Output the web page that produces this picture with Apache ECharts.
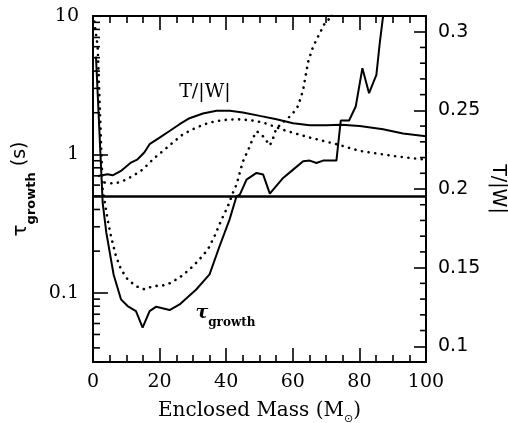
<!DOCTYPE html>
<html><head><meta charset="utf-8">
<script src="https://cdn.jsdelivr.net/npm/echarts@6/dist/echarts.min.js"></script>
<style>html,body{margin:0;padding:0;background:#fff}#c{width:508px;height:423px}</style>
</head><body><div id="c"></div>
<script>
// ---- data ----
const tauSolidMass = [0.9, 2.9, 4.0, 6.2, 8.4, 10.4, 12.9, 14.9, 17.0, 19.0, 23.0, 26.0, 31.0, 35.0, 38.0, 41.0, 43.1, 44.1, 46.1, 49.1, 51.1, 53.1, 57.1, 60.1, 63.1, 65.1, 67.1, 69.1, 73.1, 74.4, 76.9, 78.9, 80.9, 82.9, 85.1, 86.1, 87.1, 87.6];
const tauSolid     = [5.09, 0.449, 0.272, 0.135, 0.0897, 0.0802, 0.0738, 0.0560, 0.0738, 0.0794, 0.0750, 0.0824, 0.1057, 0.1358, 0.217, 0.338, 0.498, 0.512, 0.658, 0.735, 0.715, 0.521, 0.676, 0.776, 0.891, 0.902, 0.867, 0.902, 0.902, 1.758, 1.758, 2.218, 4.20, 2.77, 3.76, 6.35, 9.89, 12];

const tauDottedMass = [0.4, 1.4, 2.9, 3.4, 4.4, 5.4, 6.9, 8.4, 10.4, 12.9, 15.5, 18.0, 21.0, 23.5, 26.5, 29.0, 31.5, 34.5, 36.5, 38.6, 40.5, 42.0, 43.1, 45.0, 47.1, 48.0, 49.2, 51.1, 53.1, 54.1, 54.9, 56.6, 58.6, 60.1, 61.6, 63.1, 64.6, 66.1, 68.1, 69.6, 71.1, 72.0];
const tauDotted     = [9.1, 6.01, 0.557, 0.471, 0.338, 0.256, 0.184, 0.148, 0.125, 0.1117, 0.1059, 0.1117, 0.113, 0.1183, 0.1318, 0.1476, 0.1694, 0.2056, 0.2564, 0.338, 0.4217, 0.527, 0.605, 0.885, 1.146, 1.31, 1.47, 1.35, 1.16, 1.31, 1.51, 1.68, 1.83, 1.99, 2.24, 2.92, 4.66, 6.01, 7.50, 8.85, 9.62, 11];

const twSolidMass = [1.5, 4.4, 5.9, 8.4, 11.4, 13.4, 15.4, 17.0, 20.0, 23.0, 26.0, 29.0, 33.0, 37.1, 41.1, 45.0, 50.1, 55.1, 60.1, 65.1, 70.1, 74.6, 80.1, 87.1, 93.1, 100];
const twSolid     = [0.2083, 0.2094, 0.2087, 0.2115, 0.2168, 0.2189, 0.2232, 0.2285, 0.2327, 0.2369, 0.2412, 0.2450, 0.2480, 0.2497, 0.2497, 0.2487, 0.2465, 0.2444, 0.2418, 0.2406, 0.2406, 0.2408, 0.2401, 0.2380, 0.2353, 0.2335];

const twDottedMass = [3.5, 6.5, 9.0, 12.0, 15.0, 18.0, 21.0, 24.0, 27.0, 31.0, 35.0, 39.0, 43.1, 47.1, 51.1, 58.1, 65.1, 73.1, 80.1, 90.1, 100];
const twDotted     = [0.2041, 0.2034, 0.2051, 0.2083, 0.2125, 0.2189, 0.2242, 0.2296, 0.2348, 0.2391, 0.2423, 0.2438, 0.2444, 0.2438, 0.2423, 0.2369, 0.2327, 0.2285, 0.2242, 0.2210, 0.2186];

const tauThreshold = 0.5;

const massTicks = [0, 20, 40, 60, 80, 100];
const tauTickLabels = [0.1, 1, 10];
const twTickLabels = [0.1, 0.15, 0.2, 0.25, 0.3];
const tauMinorTicks = [0.04, 0.05, 0.06, 0.07, 0.08, 0.09, 0.2, 0.3, 0.4, 0.5, 0.6, 0.7, 0.8, 0.9, 2, 3, 4, 5, 6, 7, 8, 9];
const twMinorTicks = [0.11, 0.12, 0.13, 0.14, 0.16, 0.17, 0.18, 0.19, 0.21, 0.22, 0.23, 0.24, 0.26, 0.27, 0.28, 0.29];

// annotation anchors (data coordinates)
const twLabelAt = [33.6, 0.2616];
const tauLabelAt = [30.6, 0.0687];

// ---- chart ----
const zip = (a, b) => a.map((x, i) => [x, b[i]]);
const black = '#000';
const serif = 'DejaVu Serif';
const sans = 'DejaVu Sans';

const tickStyle = { color: black, width: 1.6 };
const xAxisBase = {
  type: 'value', min: massTicks[0], max: massTicks[massTicks.length - 1], interval: 20,
  axisLine: { show: true, onZero: false, lineStyle: { color: black, width: 2 } },
  axisTick: { show: true, inside: true, length: 14, lineStyle: tickStyle },
  minorTick: { show: true, splitNumber: 4, length: 7, lineStyle: tickStyle },
  splitLine: { show: false }, minorSplitLine: { show: false }
};

const option = {
  animation: false,
  backgroundColor: '#fff',
  grid: { left: 93, right: 82, top: 16, bottom: 61, containLabel: false, outerBoundsMode: 'none' },
  xAxis: [
    Object.assign({}, xAxisBase, {
      position: 'bottom',
      axisLabel: { show: true, margin: 11, fontFamily: serif, fontSize: 19, color: black,
        formatter: v => massTicks.includes(v) ? String(v) : '' },
      name: '{n|Enclosed Mass (M}{sub|⊙}{n|)}',
      nameLocation: 'middle', nameGap: 39,
      nameTextStyle: { rich: {
        n: { fontFamily: serif, fontSize: 20, color: black, lineHeight: 24, verticalAlign: 'top' },
        sub: { fontFamily: sans, fontSize: 11, color: black, lineHeight: 11, verticalAlign: 'top', padding: [13, 0, 0, 0] }
      } }
    }),
    Object.assign({}, xAxisBase, { position: 'top', axisLabel: { show: false } })
  ],
  yAxis: [
    {
      type: 'log', min: Math.pow(10, -1.5), max: 10, position: 'left',
      axisLine: { show: true, onZero: false, lineStyle: { color: black, width: 2 } },
      axisTick: { show: true, inside: true, length: 15, lineStyle: tickStyle },
      minorTick: { show: false },
      splitLine: { show: false },
      axisLabel: { margin: 14, fontFamily: serif, fontSize: 19, color: black,
        formatter: v => {
          const hit = tauTickLabels.find(t => Math.abs(Math.log10(v) - Math.log10(t)) < 1e-6);
          return hit !== undefined ? String(hit) : '';
        } },
      name: '{t|τ}{sub|growth}{p| (s)}',
      nameLocation: 'middle', nameRotate: 90, nameGap: 55,
      nameTextStyle: { rich: {
        t: { fontFamily: sans, fontSize: 20, color: black, lineHeight: 24, verticalAlign: 'top' },
        p: { fontFamily: sans, fontSize: 19, color: black, lineHeight: 24, verticalAlign: 'top' },
        sub: { fontFamily: sans, fontSize: 13, fontWeight: 'bold', color: black, lineHeight: 13, verticalAlign: 'top', padding: [14, 0, 0, 0] }
      } }
    },
    {
      type: 'value', min: 0.09, max: 0.31, position: 'right',
      axisLine: { show: true, onZero: false, lineStyle: { color: black, width: 2 } },
      axisTick: { show: true, inside: true, length: 12, lineStyle: tickStyle },
      minorTick: { show: false },
      splitLine: { show: false },
      axisLabel: { margin: 12, fontFamily: sans, fontSize: 19, color: black,
        formatter: v => {
          const hit = twTickLabels.find(t => Math.abs(v - t) < 1e-6);
          return hit !== undefined ? String(hit) : '';
        } },
      name: 'T/|W|',
      nameLocation: 'middle', nameRotate: -90, nameGap: 62, nameMoveOverlap: false,
      nameTextStyle: { fontFamily: sans, fontSize: 19, color: black }
    }
  ],
  series: [
    {
      type: 'line', name: 'tau solid', xAxisIndex: 0, yAxisIndex: 0,
      data: zip(tauSolidMass, tauSolid), showSymbol: false, smooth: false,
      lineStyle: { color: black, width: 2 }, z: 5,
      markLine: { silent: true, symbol: 'none', label: { show: false },
        lineStyle: { color: black, width: 2.6, type: 'solid' },
        data: [{ yAxis: tauThreshold }] }
    },
    {
      type: 'line', name: 'tau dotted', xAxisIndex: 0, yAxisIndex: 0,
      data: zip(tauDottedMass, tauDotted), showSymbol: false,
      lineStyle: { color: black, width: 2.6, type: [0.1, 6.6], cap: 'round' }, z: 4
    },
    {
      type: 'line', name: 'tw solid', xAxisIndex: 0, yAxisIndex: 1,
      data: zip(twSolidMass, twSolid), showSymbol: false,
      lineStyle: { color: black, width: 2 }, z: 5
    },
    {
      type: 'line', name: 'tw dotted', xAxisIndex: 0, yAxisIndex: 1,
      data: zip(twDottedMass, twDotted), showSymbol: false,
      lineStyle: { color: black, width: 2.6, type: [0.1, 6.6], cap: 'round' }, z: 4
    },
    {
      type: 'scatter', name: 'tau minor ticks', xAxisIndex: 0, yAxisIndex: 0, clip: false, silent: true,
      data: tauMinorTicks.map(v => [massTicks[0], v]),
      symbol: 'rect', symbolSize: [7, 1.6], symbolOffset: [3.5, 0], itemStyle: { color: black, opacity: 1 }
    },
    {
      type: 'scatter', name: 'tw minor ticks', xAxisIndex: 0, yAxisIndex: 1, clip: false, silent: true,
      data: twMinorTicks.map(v => [massTicks[massTicks.length - 1], v]),
      symbol: 'rect', symbolSize: [6, 1.6], symbolOffset: [-3, 0], itemStyle: { color: black, opacity: 1 }
    },
    {
      type: 'scatter', name: 'tw label', xAxisIndex: 0, yAxisIndex: 1, silent: true,
      data: [twLabelAt], symbolSize: 1, itemStyle: { color: 'transparent', opacity: 1 },
      label: { show: true, position: 'inside', formatter: 'T/|W|',
        fontFamily: serif, fontSize: 19, color: black, opacity: 1 }
    },
    {
      type: 'scatter', name: 'tau label', xAxisIndex: 0, yAxisIndex: 0, silent: true,
      data: [tauLabelAt], symbolSize: 1, itemStyle: { color: 'transparent', opacity: 1 },
      label: { show: true, position: 'right', distance: 0, opacity: 1,
        formatter: '{t|τ}{sub|growth}',
        rich: {
          t: { fontFamily: serif, fontSize: 19, fontWeight: 'bold', fontStyle: 'italic', color: black, lineHeight: 24, verticalAlign: 'top' },
          sub: { fontFamily: serif, fontSize: 12, fontWeight: 'bold', color: black, lineHeight: 12, verticalAlign: 'top', padding: [14, 0, 0, 0] }
        } }
    }
  ]
};

const chart = echarts.init(document.getElementById('c'), null, { renderer: 'canvas' });
chart.setOption(option);
</script>
</body></html>
